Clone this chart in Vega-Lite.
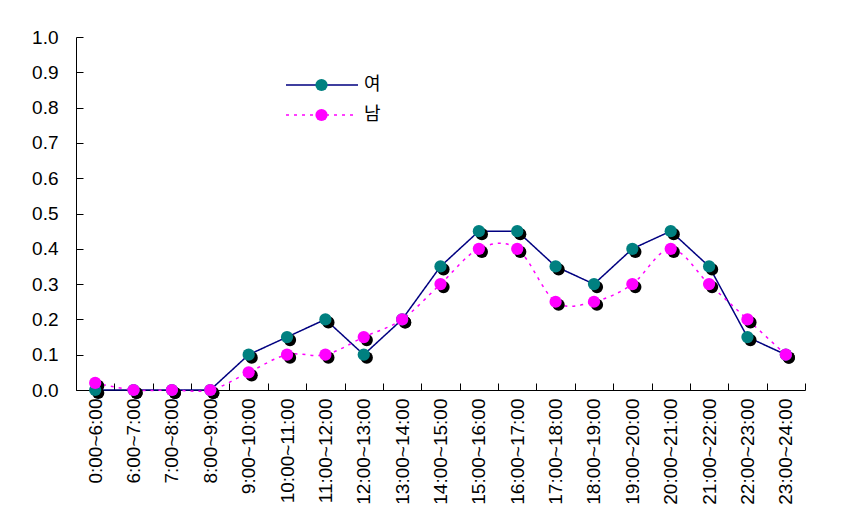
{
  "$schema": "https://vega.github.io/schema/vega-lite/v6.json",
  "autosize": "none",
  "width": 729,
  "height": 353,
  "padding": {"left": 76, "top": 37, "right": 44, "bottom": 142},
  "background": "white",
  "config": {
    "view": {"stroke": null},
    "font": "Liberation Sans",
    "axis": {"domainColor": "#000000", "tickColor": "#000000", "labelColor": "#000000", "labelFont": "Liberation Sans", "labelFontSize": 19, "grid": false, "title": null}
  },
  "data": {
    "values": [
      {"time": "0:00~6:00", "series": "여", "value": 0},
      {"time": "6:00~7:00", "series": "여", "value": 0},
      {"time": "7:00~8:00", "series": "여", "value": 0},
      {"time": "8:00~9:00", "series": "여", "value": 0},
      {"time": "9:00~10:00", "series": "여", "value": 0.1},
      {"time": "10:00~11:00", "series": "여", "value": 0.15},
      {"time": "11:00~12:00", "series": "여", "value": 0.2},
      {"time": "12:00~13:00", "series": "여", "value": 0.1},
      {"time": "13:00~14:00", "series": "여", "value": 0.2},
      {"time": "14:00~15:00", "series": "여", "value": 0.35},
      {"time": "15:00~16:00", "series": "여", "value": 0.45},
      {"time": "16:00~17:00", "series": "여", "value": 0.45},
      {"time": "17:00~18:00", "series": "여", "value": 0.35},
      {"time": "18:00~19:00", "series": "여", "value": 0.3},
      {"time": "19:00~20:00", "series": "여", "value": 0.4},
      {"time": "20:00~21:00", "series": "여", "value": 0.45},
      {"time": "21:00~22:00", "series": "여", "value": 0.35},
      {"time": "22:00~23:00", "series": "여", "value": 0.15},
      {"time": "23:00~24:00", "series": "여", "value": 0.1},
      {"time": "0:00~6:00", "series": "남", "value": 0.02},
      {"time": "6:00~7:00", "series": "남", "value": 0},
      {"time": "7:00~8:00", "series": "남", "value": 0},
      {"time": "8:00~9:00", "series": "남", "value": 0},
      {"time": "9:00~10:00", "series": "남", "value": 0.05},
      {"time": "10:00~11:00", "series": "남", "value": 0.1},
      {"time": "11:00~12:00", "series": "남", "value": 0.1},
      {"time": "12:00~13:00", "series": "남", "value": 0.15},
      {"time": "13:00~14:00", "series": "남", "value": 0.2},
      {"time": "14:00~15:00", "series": "남", "value": 0.3},
      {"time": "15:00~16:00", "series": "남", "value": 0.4},
      {"time": "16:00~17:00", "series": "남", "value": 0.4},
      {"time": "17:00~18:00", "series": "남", "value": 0.25},
      {"time": "18:00~19:00", "series": "남", "value": 0.25},
      {"time": "19:00~20:00", "series": "남", "value": 0.3},
      {"time": "20:00~21:00", "series": "남", "value": 0.4},
      {"time": "21:00~22:00", "series": "남", "value": 0.3},
      {"time": "22:00~23:00", "series": "남", "value": 0.2},
      {"time": "23:00~24:00", "series": "남", "value": 0.1}
    ]
  },
  "encoding": {
    "x": {
      "field": "time", "type": "nominal",
      "sort": ["0:00~6:00","6:00~7:00","7:00~8:00","8:00~9:00","9:00~10:00","10:00~11:00","11:00~12:00","12:00~13:00","13:00~14:00","14:00~15:00","15:00~16:00","16:00~17:00","17:00~18:00","18:00~19:00","19:00~20:00","20:00~21:00","21:00~22:00","22:00~23:00","23:00~24:00"],
      "scale": {"type": "band", "paddingInner": 0, "paddingOuter": 0},
      "axis": {"labelAngle": -90, "tickBand": "extent", "tickSize": -7, "labelPadding": 15, "labelAlign": "right", "labelBaseline": "middle", "domainWidth": 1}
    },
    "y": {
      "field": "value", "type": "quantitative",
      "scale": {"domain": [0, 1], "nice": false},
      "axis": {"values": [0, 0.1, 0.2, 0.3, 0.4, 0.5, 0.6, 0.7, 0.8, 0.9, 1.0], "format": ".1f", "tickSize": -7, "labelPadding": 25, "domainWidth": 1}
    }
  },
  "layer": [
    {
      "transform": [{"filter": "datum.series === '여'"}],
      "mark": {"type": "line", "strokeWidth": 1.5, "interpolate": "linear"},
      "encoding": {
        "stroke": {"field": "series", "type": "nominal", "scale": {"domain": ["여", "남"], "range": ["#000080", "#FF00FF"]},
          "legend": {"orient": "none", "legendX": 209, "legendY": 33, "title": null, "symbolType": "stroke", "symbolSize": 5184, "symbolStrokeWidth": 1.5, "clipHeight": 30, "rowPadding": 0, "labelOffset": 5, "labelFont": "Noto Sans CJK KR", "labelFontSize": 18, "labelColor": "#000000", "zindex": 0}},
        "strokeDash": {"field": "series", "type": "nominal", "scale": {"domain": ["여", "남"], "range": [[1, 0], [3, 5]]}}
      }
    },
    {
      "transform": [{"filter": "datum.series === '남'"}],
      "mark": {"type": "line", "strokeWidth": 1.5, "interpolate": "cardinal"},
      "encoding": {
        "stroke": {"field": "series", "type": "nominal"},
        "strokeDash": {"field": "series", "type": "nominal"}
      }
    },
    {
      "mark": {"type": "circle", "size": 150, "opacity": 1, "fill": "#000000", "xOffset": 3, "yOffset": 3}
    },
    {
      "mark": {"type": "circle", "size": 150, "opacity": 1},
      "encoding": {
        "fill": {"field": "series", "type": "nominal", "sort": ["여", "남"], "scale": {"range": ["#008080", "#FF00FF"]},
          "legend": {"orient": "none", "legendX": 239, "legendY": 33, "title": null, "symbolType": "circle", "symbolSize": 150, "symbolStrokeWidth": 0, "clipHeight": 30, "rowPadding": 0, "labelExpr": "''", "zindex": 1}}
      }
    }
  ]
}
